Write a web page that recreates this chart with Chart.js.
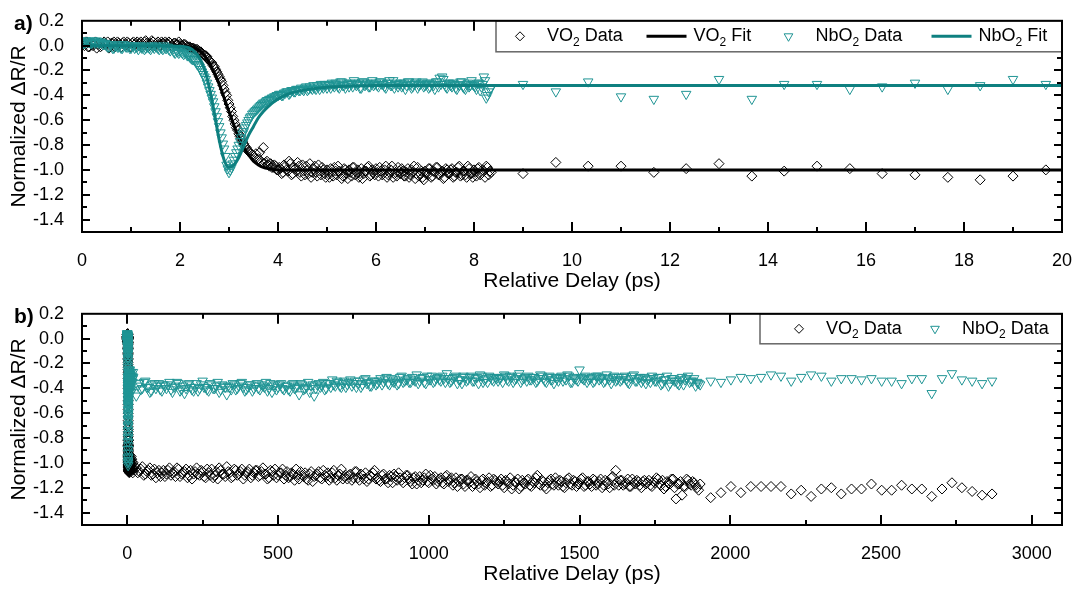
<!DOCTYPE html>
<html>
<head>
<meta charset="utf-8">
<title>Normalized reflectivity transients - VO2 and NbO2</title>
<script src="https://cdn.jsdelivr.net/npm/chart.js@4.4.1/dist/chart.umd.min.js"></script>
<style>
  body { margin: 0; background: #fff; }
  .panel { position: absolute; left: 0; }
  #panelA { top: 0; }
  #panelB { top: 293px; }
</style>
</head>
<body>
<div class="panel" id="panelA"><canvas id="chartA" width="1083" height="296"></canvas></div>
<div class="panel" id="panelB"><canvas id="chartB" width="1083" height="300"></canvas></div>

<script>
// ---- axis ticks ----
const yTicks = [0.2, 0.0, -0.2, -0.4, -0.6, -0.8, -1.0, -1.2, -1.4];
const xTicksA = [0, 2, 4, 6, 8, 10, 12, 14, 16, 18, 20];
const xTicksB = [0, 500, 1000, 1500, 2000, 2500, 3000];

// ---- short delay scans (ps): stage stepped 0.05 ps, second pass offset by half a step ----
const shortStep = 0.05;
const vo2Short = [
  0.02, 0.00, 0.03, -0.01, 0.02, 0.01, -0.02, 0.02, 0.00, 0.03,
  0.01, -0.02, 0.02, 0.03, 0.00, 0.02, -0.01, 0.03, 0.01, 0.02,
  -0.01, 0.03, 0.02, 0.00, 0.03, 0.01, 0.04, -0.01, 0.02, 0.03,
  0.01, 0.03, 0.00, 0.02, 0.03, 0.01, 0.02, -0.01, 0.02, 0.01,
  0.01, 0.00, 0.01, -0.01, -0.01, -0.02, -0.03, -0.03, -0.05, -0.06,
  -0.08, -0.09, -0.12, -0.14, -0.17, -0.21, -0.25, -0.29, -0.35, -0.40,
  -0.47, -0.53, -0.60, -0.66, -0.71, -0.75, -0.79, -0.82, -0.85, -0.87,
  -0.89, -0.87, -0.91, -0.93, -0.82, -0.94, -0.96, -0.95, -0.98, -0.97,
  -1.00, -0.99, -1.02, -0.97, -1.01, -0.95, -1.03, -0.99, -0.94, -1.02,
  -0.96, -1.04, -1.00, -0.95, -1.02, -0.97, -1.05, -1.01, -0.98, -1.03,
  -1.00, -1.06, -1.02, -0.98, -1.04, -1.01, -1.07, -0.99, -1.03, -1.00,
  -1.05, -0.98, -1.02, -1.06, -0.99, -1.03, -1.01, -0.97, -1.04, -1.02,
  -0.99, -1.05, -1.01, -1.03, -0.97, -1.04, -1.00, -1.06, -1.02, -0.98,
  -1.03, -1.01, -1.05, -0.99, -1.04, -1.02, -1.07, -0.98, -1.03, -1.06,
  -1.01, -1.04, -0.99, -1.05, -1.02, -0.98, -1.04, -1.01, -1.06, -1.00,
  -1.03, -0.99, -1.05, -1.02, -0.97, -1.04, -1.01, -1.06, -0.99, -1.03,
  -1.00, -1.05, -0.98, -1.03, -1.01, -0.97, -1.04, -1.02
];
const vo2ShortRepeat = [
  0.01, 0.03, -0.01, 0.02, 0.00, 0.03, 0.01, -0.01, 0.02, 0.01,
  0.03, 0.00, 0.02, -0.01, 0.03, 0.01, 0.02, 0.00, 0.03, -0.01,
  0.02, 0.01, 0.03, 0.02, -0.01, 0.03, 0.02, 0.01, 0.04, 0.00,
  0.02, 0.00, 0.03, 0.01, 0.02, 0.03, 0.00, 0.02, 0.01, 0.03,
  0.00, 0.01, 0.00, -0.01, -0.02, -0.02, -0.03, -0.04, -0.05, -0.07,
  -0.08, -0.11, -0.13, -0.16, -0.19, -0.23, -0.27, -0.32, -0.38, -0.44,
  -0.50, -0.57, -0.63, -0.68, -0.73, -0.77, -0.81, -0.84, -0.86, -0.88,
  -0.90, -0.92, -0.86, -0.94, -0.95, -0.93, -0.97, -0.98, -0.96, -1.00,
  -0.98, -1.03, -0.96, -1.00, -0.93, -1.04, -0.98, -1.01, -0.97, -1.05,
  -1.01, -0.97, -1.03, -1.06, -0.99, -1.02, -0.96, -1.04, -1.00, -1.06,
  -1.03, -0.99, -1.05, -1.01, -0.97, -1.03, -1.05, -1.00, -1.07, -1.02,
  -0.98, -1.04, -1.00, -1.03, -1.07, -1.01, -0.98, -1.05, -1.00, -1.04,
  -1.02, -0.98, -1.04, -1.00, -1.06, -1.02, -0.97, -1.03, -1.05, -1.01,
  -0.99, -1.05, -1.02, -1.06, -1.00, -0.97, -1.03, -1.05, -1.01, -1.08,
  -1.03, -0.99, -1.06, -1.01, -0.98, -1.04, -1.02, -1.07, -0.99, -1.03,
  -1.00, -1.06, -1.02, -0.98, -1.05, -1.01, -1.04, -0.97, -1.03, -1.06,
  -1.02, -0.99, -1.04, -1.00, -1.06, -0.98, -1.01
];
const nbo2Short = [
  0.03, 0.02, 0.04, 0.03, 0.02, 0.03, 0.04, 0.02, 0.03, 0.01,
  0.00, -0.01, 0.01, -0.02, 0.00, -0.01, -0.02, 0.01, -0.01, 0.00,
  -0.02, 0.00, -0.01, -0.03, -0.01, 0.00, -0.02, -0.01, -0.03, -0.01,
  0.00, -0.02, -0.01, -0.03, -0.02, -0.01, -0.04, -0.03, -0.06, -0.05,
  -0.04, -0.06, -0.05, -0.08, -0.09, -0.11, -0.12, -0.15, -0.17, -0.21,
  -0.25, -0.30, -0.36, -0.42, -0.49, -0.57, -0.65, -0.74, -0.83, -0.96,
  -1.02, -0.98, -0.92, -0.86, -0.80, -0.74, -0.69, -0.64, -0.60, -0.57,
  -0.54, -0.52, -0.50, -0.48, -0.46, -0.45, -0.44, -0.43, -0.42, -0.41,
  -0.40, -0.39, -0.40, -0.38, -0.37, -0.38, -0.36, -0.37, -0.35, -0.36,
  -0.35, -0.34, -0.36, -0.33, -0.35, -0.34, -0.32, -0.35, -0.33, -0.31,
  -0.34, -0.32, -0.30, -0.33, -0.31, -0.34, -0.29, -0.32, -0.30, -0.33,
  -0.31, -0.28, -0.32, -0.30, -0.34, -0.29, -0.31, -0.33, -0.30, -0.32,
  -0.30, -0.33, -0.29, -0.31, -0.34, -0.30, -0.32, -0.28, -0.31, -0.33,
  -0.30, -0.32, -0.35, -0.29, -0.31, -0.33, -0.30, -0.34, -0.31, -0.29,
  -0.32, -0.30, -0.33, -0.31, -0.35, -0.29, -0.26, -0.25, -0.31, -0.34,
  -0.30, -0.33, -0.31, -0.35, -0.32, -0.29, -0.34, -0.31, -0.33, -0.28,
  -0.32, -0.35, -0.30, -0.33, -0.25, -0.42, -0.37, -0.34
];
const nbo2ShortRepeat = [
  0.02, 0.04, 0.03, 0.02, 0.04, 0.02, 0.03, 0.03, 0.01, 0.02,
  -0.01, 0.01, -0.02, 0.00, -0.01, 0.01, -0.02, 0.00, -0.01, -0.02,
  0.00, -0.02, -0.01, 0.00, -0.02, -0.03, -0.01, -0.02, 0.00, -0.02,
  -0.01, -0.03, -0.02, 0.00, -0.02, -0.03, -0.02, -0.05, -0.04, -0.06,
  -0.05, -0.07, -0.06, -0.08, -0.10, -0.11, -0.13, -0.16, -0.19, -0.23,
  -0.27, -0.33, -0.39, -0.45, -0.53, -0.61, -0.70, -0.79, -0.89, -0.99,
  -1.00, -0.95, -0.89, -0.83, -0.77, -0.71, -0.66, -0.62, -0.58, -0.55,
  -0.53, -0.51, -0.49, -0.47, -0.46, -0.44, -0.43, -0.42, -0.41, -0.40,
  -0.39, -0.40, -0.38, -0.37, -0.39, -0.36, -0.37, -0.35, -0.36, -0.34,
  -0.36, -0.33, -0.35, -0.34, -0.32, -0.35, -0.33, -0.31, -0.34, -0.32,
  -0.31, -0.34, -0.32, -0.30, -0.33, -0.29, -0.32, -0.34, -0.31, -0.30,
  -0.33, -0.30, -0.31, -0.34, -0.29, -0.32, -0.30, -0.33, -0.28, -0.31,
  -0.32, -0.29, -0.31, -0.33, -0.30, -0.28, -0.32, -0.34, -0.30, -0.31,
  -0.33, -0.30, -0.32, -0.29, -0.34, -0.31, -0.29, -0.32, -0.30, -0.33,
  -0.31, -0.34, -0.30, -0.32, -0.29, -0.33, -0.31, -0.27, -0.33, -0.30,
  -0.32, -0.30, -0.34, -0.31, -0.29, -0.33, -0.35, -0.30, -0.32, -0.31,
  -0.33, -0.30, -0.36, -0.31, -0.28, -0.40, -0.35
];

// coarse points after the fine scan
const midDelay = [9.0, 9.67, 10.33, 11.0, 11.67, 12.33, 13.0, 13.67, 14.33, 15.0, 15.67, 16.33, 17.0, 17.67, 18.33, 19.0, 19.67];
const vo2Mid = [-1.03, -0.94, -0.97, -0.97, -1.02, -0.99, -0.95, -1.05, -1.01, -0.97, -0.99, -1.03, -1.04, -1.06, -1.08, -1.05, -1.00];
const nbo2Mid = [-0.31, -0.37, -0.29, -0.41, -0.43, -0.39, -0.27, -0.43, -0.31, -0.31, -0.35, -0.33, -0.30, -0.35, -0.32, -0.27, -0.31];

// fitted curves
const vo2FitDelay = [0, 1.0, 2.0, 2.2, 2.4, 2.5, 2.6, 2.7, 2.8, 2.9, 3.0, 3.1, 3.2, 3.3, 3.4, 3.5, 3.6, 3.7, 3.8, 4.0, 4.3, 5.0, 20];
const vo2Fit = [0, 0, 0, -0.01, -0.04, -0.08, -0.14, -0.22, -0.31, -0.42, -0.53, -0.64, -0.74, -0.82, -0.88, -0.93, -0.96, -0.98, -0.99, -1.0, -1.0, -1.0, -1.0];
const nbo2FitDelay = [0, 1.0, 2.0, 2.2, 2.3, 2.4, 2.5, 2.6, 2.7, 2.8, 2.9, 3.0, 3.1, 3.2, 3.3, 3.4, 3.5, 3.6, 3.7, 3.8, 4.0, 4.2, 4.5, 5.0, 5.5, 6.0, 20];
const nbo2Fit = [0, 0, -0.005, -0.02, -0.05, -0.1, -0.19, -0.34, -0.54, -0.76, -0.92, -0.98, -0.96, -0.9, -0.81, -0.72, -0.65, -0.58, -0.53, -0.49, -0.43, -0.39, -0.36, -0.335, -0.325, -0.32, -0.32];

// ---- long delay scans (ps): 10 ps steps from 30, second pass offset by 5 ps ----
const longStart = 30, longStep = 10;
const vo2Long = [
  -1.04, -1.07, -1.03, -1.09, -1.06, -1.10, -1.05, -1.08, -1.11, -1.06,
  -1.09, -1.04, -1.08, -1.11, -1.05, -1.09, -1.07, -1.12, -1.06, -1.09,
  -1.04, -1.10, -1.07, -1.12, -1.08, -1.05, -1.10, -1.13, -1.06, -1.09,
  -1.03, -1.08, -1.11, -1.06, -1.09, -1.05, -1.10, -1.07, -1.12, -1.08,
  -1.06, -1.10, -1.04, -1.09, -1.12, -1.07, -1.05, -1.10, -1.08, -1.13,
  -1.07, -1.11, -1.09, -1.05, -1.13, -1.10, -1.08, -1.14, -1.07, -1.11,
  -1.09, -1.12, -1.06, -1.11, -1.14, -1.08, -1.12, -1.10, -1.05, -1.11,
  -1.13, -1.09, -1.12, -1.07, -1.14, -1.10, -1.08, -1.13, -1.11, -1.06,
  -1.12, -1.15, -1.09, -1.13, -1.10, -1.16, -1.11, -1.08, -1.14, -1.12,
  -1.10, -1.15, -1.12, -1.17, -1.11, -1.14, -1.09, -1.16, -1.13, -1.11,
  -1.15, -1.12, -1.17, -1.10, -1.14, -1.18, -1.12, -1.15, -1.13, -1.19,
  -1.14, -1.11, -1.17, -1.15, -1.20, -1.13, -1.16, -1.12, -1.18, -1.14,
  -1.17, -1.13, -1.20, -1.15, -1.12, -1.18, -1.16, -1.21, -1.14, -1.17,
  -1.13, -1.19, -1.16, -1.10, -1.18, -1.15, -1.21, -1.14, -1.17, -1.12,
  -1.18, -1.15, -1.20, -1.13, -1.17, -1.14, -1.19, -1.16, -1.12, -1.18,
  -1.15, -1.19, -1.14, -1.17, -1.13, -1.18, -1.16, -1.20, -1.11, -1.06,
  -1.18, -1.14, -1.17, -1.13, -1.19, -1.16, -1.14, -1.18, -1.15, -1.17,
  -1.14, -1.19, -1.16, -1.13, -1.18, -1.21, -1.15, -1.17, -1.13, -1.29,
  -1.17, -1.26, -1.19, -1.14, -1.18, -1.16, -1.20, -1.17
];
const vo2LongRepeat = [
  -1.08, -1.05, -1.10, -1.07, -1.04, -1.09, -1.12, -1.06, -1.08, -1.11,
  -1.06, -1.10, -1.07, -1.04, -1.11, -1.08, -1.05, -1.10, -1.13, -1.07,
  -1.09, -1.06, -1.11, -1.05, -1.10, -1.12, -1.07, -1.04, -1.09, -1.11,
  -1.07, -1.12, -1.05, -1.10, -1.07, -1.13, -1.08, -1.05, -1.10, -1.06,
  -1.11, -1.07, -1.09, -1.13, -1.06, -1.10, -1.12, -1.08, -1.05, -1.10,
  -1.12, -1.08, -1.14, -1.10, -1.07, -1.11, -1.13, -1.09, -1.15, -1.10,
  -1.07, -1.13, -1.10, -1.08, -1.12, -1.06, -1.14, -1.09, -1.13, -1.10,
  -1.10, -1.14, -1.07, -1.12, -1.09, -1.13, -1.15, -1.10, -1.08, -1.13,
  -1.14, -1.10, -1.13, -1.16, -1.11, -1.09, -1.14, -1.12, -1.16, -1.10,
  -1.13, -1.17, -1.11, -1.14, -1.16, -1.12, -1.15, -1.10, -1.14, -1.17,
  -1.13, -1.16, -1.11, -1.15, -1.12, -1.16, -1.19, -1.13, -1.17, -1.14,
  -1.16, -1.19, -1.13, -1.17, -1.14, -1.18, -1.15, -1.19, -1.13, -1.16,
  -1.15, -1.18, -1.14, -1.17, -1.21, -1.15, -1.13, -1.19, -1.16, -1.14,
  -1.18, -1.15, -1.12, -1.17, -1.14, -1.19, -1.16, -1.13, -1.18, -1.15,
  -1.14, -1.19, -1.16, -1.12, -1.18, -1.15, -1.17, -1.13, -1.19, -1.15,
  -1.17, -1.13, -1.18, -1.15, -1.20, -1.14, -1.17, -1.12, -1.18, -1.15,
  -1.14, -1.18, -1.16, -1.19, -1.13, -1.17, -1.15, -1.20, -1.14, -1.16,
  -1.18, -1.15, -1.12, -1.17, -1.14, -1.19, -1.16, -1.13, -1.20, -1.17,
  -1.15, -1.19, -1.13, -1.17, -1.15, -1.18, -1.22
];
const nbo2Long = [
  -0.46, -0.36, -0.40, -0.34, -0.39, -0.42, -0.36, -0.38, -0.41, -0.37,
  -0.40, -0.35, -0.43, -0.38, -0.36, -0.41, -0.44, -0.37, -0.39, -0.42,
  -0.36, -0.40, -0.34, -0.39, -0.42, -0.37, -0.40, -0.35, -0.41, -0.38,
  -0.45, -0.39, -0.36, -0.41, -0.38, -0.35, -0.42, -0.39, -0.37, -0.40,
  -0.36, -0.41, -0.38, -0.35, -0.40, -0.43, -0.37, -0.39, -0.36, -0.41,
  -0.38, -0.42, -0.36, -0.39, -0.45, -0.37, -0.40, -0.35, -0.38, -0.46,
  -0.37, -0.39, -0.35, -0.40, -0.36, -0.33, -0.38, -0.35, -0.39, -0.34,
  -0.37, -0.33, -0.36, -0.39, -0.34, -0.37, -0.32, -0.35, -0.38, -0.34,
  -0.36, -0.32, -0.35, -0.31, -0.37, -0.34, -0.33, -0.36, -0.30, -0.34,
  -0.32, -0.35, -0.33, -0.29, -0.34, -0.31, -0.36, -0.33, -0.30, -0.34,
  -0.31, -0.34, -0.32, -0.28, -0.35, -0.32, -0.30, -0.33, -0.36, -0.31,
  -0.33, -0.30, -0.34, -0.31, -0.29, -0.35, -0.32, -0.30, -0.33, -0.31,
  -0.34, -0.31, -0.29, -0.33, -0.30, -0.35, -0.32, -0.28, -0.33, -0.31,
  -0.30, -0.33, -0.31, -0.34, -0.29, -0.32, -0.35, -0.30, -0.33, -0.31,
  -0.34, -0.30, -0.32, -0.29, -0.35, -0.31, -0.33, -0.25, -0.32, -0.30,
  -0.33, -0.31, -0.34, -0.30, -0.32, -0.35, -0.29, -0.33, -0.31, -0.34,
  -0.31, -0.33, -0.30, -0.35, -0.32, -0.29, -0.34, -0.31, -0.33, -0.36,
  -0.32, -0.30, -0.34, -0.31, -0.37, -0.33, -0.30, -0.36, -0.32, -0.34,
  -0.37, -0.31, -0.33, -0.30, -0.34, -0.32, -0.35, -0.37
];
const nbo2LongRepeat = [
  -0.38, -0.41, -0.35, -0.39, -0.43, -0.37, -0.40, -0.36, -0.42, -0.38,
  -0.37, -0.41, -0.39, -0.35, -0.42, -0.38, -0.40, -0.36, -0.41, -0.39,
  -0.42, -0.37, -0.39, -0.41, -0.36, -0.40, -0.38, -0.43, -0.37, -0.39,
  -0.38, -0.41, -0.37, -0.40, -0.36, -0.39, -0.41, -0.37, -0.42, -0.38,
  -0.40, -0.37, -0.39, -0.42, -0.36, -0.38, -0.41, -0.37, -0.40, -0.38,
  -0.41, -0.37, -0.40, -0.38, -0.36, -0.41, -0.39, -0.43, -0.37, -0.40,
  -0.36, -0.38, -0.41, -0.36, -0.39, -0.37, -0.34, -0.38, -0.36, -0.39,
  -0.35, -0.38, -0.34, -0.36, -0.39, -0.33, -0.36, -0.38, -0.34, -0.37,
  -0.34, -0.37, -0.33, -0.36, -0.32, -0.35, -0.37, -0.31, -0.35, -0.33,
  -0.35, -0.31, -0.34, -0.36, -0.32, -0.35, -0.30, -0.33, -0.35, -0.32,
  -0.33, -0.30, -0.35, -0.32, -0.34, -0.31, -0.36, -0.33, -0.30, -0.34,
  -0.31, -0.34, -0.32, -0.36, -0.30, -0.33, -0.35, -0.31, -0.34, -0.32,
  -0.32, -0.35, -0.30, -0.34, -0.31, -0.33, -0.30, -0.35, -0.32, -0.34,
  -0.33, -0.31, -0.35, -0.32, -0.30, -0.34, -0.31, -0.33, -0.36, -0.32,
  -0.31, -0.34, -0.33, -0.30, -0.35, -0.32, -0.34, -0.31, -0.33, -0.35,
  -0.32, -0.35, -0.30, -0.33, -0.31, -0.34, -0.32, -0.36, -0.30, -0.33,
  -0.34, -0.31, -0.33, -0.36, -0.30, -0.34, -0.32, -0.35, -0.31, -0.33,
  -0.35, -0.32, -0.34, -0.31, -0.36, -0.33, -0.38, -0.32, -0.34, -0.36,
  -0.33, -0.37, -0.32, -0.35, -0.34, -0.38, -0.36
];

// coarse tail of the long scan
const tailDelay = [1935, 1969, 2002, 2035, 2068, 2102, 2135, 2168, 2202, 2235, 2268, 2302, 2335, 2368, 2402,
                   2435, 2468, 2502, 2535, 2568, 2602, 2635, 2668, 2702, 2735, 2768, 2802, 2835, 2868];
const vo2Tail = [-1.28, -1.24, -1.19, -1.24, -1.19, -1.19, -1.19, -1.19, -1.25, -1.22, -1.27, -1.21, -1.20, -1.25, -1.21,
                 -1.21, -1.17, -1.22, -1.22, -1.18, -1.21, -1.21, -1.27, -1.21, -1.16, -1.20, -1.23, -1.26, -1.25];
const nbo2Tail = [-0.34, -0.35, -0.33, -0.31, -0.32, -0.31, -0.29, -0.30, -0.34, -0.31, -0.29, -0.30, -0.34, -0.32, -0.32,
                  -0.33, -0.32, -0.34, -0.34, -0.36, -0.32, -0.32, -0.44, -0.32, -0.28, -0.33, -0.34, -0.36, -0.34];

// ---- styling ----
const FONT = '"Liberation Sans", Arial, sans-serif';
const TEAL = '#1f9494';
const TEAL_LINE = '#0e8080';

const shortDelay = vo2Short.map((_, i) => +(i * shortStep).toFixed(3));
const shortDelayRepeat = vo2ShortRepeat.map((_, i) => +(shortStep / 2 + i * shortStep).toFixed(3));
const longDelay = vo2Long.map((_, i) => longStart + i * longStep);
const longDelayRepeat = vo2LongRepeat.map((_, i) => longStart + longStep / 2 + i * longStep);

function pair(xs, ys) {
  return xs.map((x, i) => ({ x: x, y: ys[i] }));
}

function vo2Points(xs, ys) {
  return { label: 'VO₂ Data', data: pair(xs, ys), showLine: false, order: 3,
           pointStyle: 'rectRot', pointRadius: 5, pointBorderWidth: 1,
           borderColor: '#000', backgroundColor: 'rgba(0,0,0,0)' };
}
function nbo2Points(xs, ys) {
  return { label: 'NbO₂ Data', data: pair(xs, ys), showLine: false, order: 1,
           pointStyle: 'triangle', pointRotation: 180, pointRadius: 5.5, pointBorderWidth: 1,
           borderColor: TEAL, backgroundColor: 'rgba(0,0,0,0)' };
}
function fitLine(label, xs, ys, color, order) {
  return { label: label, data: pair(xs, ys), showLine: true, order: order,
           borderColor: color, borderWidth: 3, pointRadius: 0,
           cubicInterpolationMode: 'monotone', backgroundColor: color };
}

// label with the "2" of the formula set as a subscript
function drawSubLabel(ctx, text, x, y) {
  const parts = text.split('₂');
  ctx.fillStyle = '#000';
  ctx.textAlign = 'left';
  ctx.textBaseline = 'middle';
  let cx = x;
  parts.forEach((p, i) => {
    if (i > 0) {
      ctx.font = '12px ' + FONT;
      ctx.fillText('2', cx, y + 6);
      cx += ctx.measureText('2').width;
    }
    ctx.font = '18px ' + FONT;
    ctx.fillText(p, cx, y);
    cx += ctx.measureText(p).width;
  });
}

// inward ticks on all four sides, boxed legend, frame and panel tag
const framePlugin = {
  id: 'frame',
  afterDraw(chart, args, o) {
    const { ctx, chartArea: a } = chart;
    const xs = chart.scales.x, ys = chart.scales.y;
    ctx.save();
    ctx.strokeStyle = '#000';
    ctx.lineWidth = 2;
    ctx.beginPath();
    for (let k = Math.ceil(xs.min / o.xMinor - 1e-9); k * o.xMinor <= xs.max + 1e-9; k++) {
      const v = k * o.xMinor;
      if (v <= xs.min + 1e-9 || v >= xs.max - 1e-9) continue;
      const len = o.xMajor.some(m => Math.abs(m - v) < 1e-6) ? 10 : 5;
      const px = Math.round(xs.getPixelForValue(v));
      ctx.moveTo(px, a.bottom); ctx.lineTo(px, a.bottom - len);
      ctx.moveTo(px, a.top); ctx.lineTo(px, a.top + len);
    }
    for (let k = Math.ceil(ys.min / o.yMinor - 1e-9); k * o.yMinor <= ys.max + 1e-9; k++) {
      const v = k * o.yMinor;
      if (v <= ys.min + 1e-9 || v >= ys.max - 1e-9) continue;
      const len = o.yMajor.some(m => Math.abs(m - v) < 1e-6) ? 8 : 5;
      const py = Math.round(ys.getPixelForValue(v));
      ctx.moveTo(a.left, py); ctx.lineTo(a.left + len, py);
      ctx.moveTo(a.right, py); ctx.lineTo(a.right - len, py);
    }
    ctx.stroke();

    // legend box in the upper right corner
    const lg = o.legend;
    const top = a.top, bottom = a.top + lg.height;
    ctx.fillStyle = '#fff';
    ctx.fillRect(lg.left, top, a.right - lg.left, bottom - top);
    ctx.strokeStyle = '#666';
    ctx.lineWidth = 1.5;
    ctx.strokeRect(lg.left, top, a.right - lg.left, bottom - top);
    const cy = (top + bottom) / 2;
    lg.items.forEach(it => {
      const ds = chart.data.datasets[it.dataset];
      const cx = lg.left + it.x;
      if (ds.showLine) {
        ctx.strokeStyle = ds.borderColor;
        ctx.lineWidth = ds.borderWidth;
        ctx.beginPath();
        ctx.moveTo(cx - 20, cy); ctx.lineTo(cx + 20, cy);
        ctx.stroke();
      } else {
        ctx.strokeStyle = ds.borderColor;
        ctx.fillStyle = 'rgba(0,0,0,0)';
        ctx.lineWidth = ds.pointBorderWidth;
        Chart.helpers.drawPoint(ctx, {
          pointStyle: ds.pointStyle, radius: ds.pointRadius - 0.5,
          rotation: ds.pointRotation || 0, borderWidth: ds.pointBorderWidth
        }, cx, cy);
      }
      drawSubLabel(ctx, ds.label, cx + 27, cy);
    });

    // plot frame
    ctx.strokeStyle = '#000';
    ctx.lineWidth = 2;
    ctx.strokeRect(a.left, a.top, a.right - a.left, a.bottom - a.top);

    // panel tag
    ctx.fillStyle = '#000';
    ctx.font = 'bold 21px ' + FONT;
    ctx.textAlign = 'left';
    ctx.textBaseline = 'middle';
    ctx.fillText(o.tag, 14, a.top + 3);
    ctx.restore();
  }
};

function makeOptions(c) {
  return {
    responsive: false,
    animation: false,
    devicePixelRatio: 1,
    events: [],
    layout: { padding: { top: 12, right: 21, left: 0, bottom: c.padBottom } },
    plugins: {
      legend: { display: false },
      tooltip: { enabled: false },
      frame: c.frame
    },
    scales: {
      x: {
        type: 'linear', min: c.xMin, max: c.xMax,
        grid: { display: false }, border: { display: false },
        afterBuildTicks: s => { s.ticks = c.xTicks.map(v => ({ value: v })); },
        afterFit: s => { s.height = c.xHeight; },
        ticks: { color: '#000', font: { family: FONT, size: 18 }, padding: 10,
                 maxRotation: 0, autoSkip: false, callback: v => String(v) },
        title: { display: true, text: 'Relative Delay (ps)', color: '#000',
                 font: { family: FONT, size: 21 }, padding: 0 }
      },
      y: {
        type: 'linear', min: -1.5, max: 0.2,
        grid: { display: false }, border: { display: false },
        afterBuildTicks: s => { s.ticks = yTicks.map(v => ({ value: v })); },
        afterFit: s => { s.width = 82; },
        ticks: { color: '#000', font: { family: FONT, size: 18 }, padding: 10,
                 autoSkip: false, callback: v => v.toFixed(1) },
        title: { display: true, text: 'Normalized ΔR/R', color: '#000',
                 font: { family: FONT, size: 21 }, padding: { top: 7, bottom: 0 } }
      }
    }
  };
}

const vo2ShortAll = { x: shortDelay.concat(shortDelayRepeat, midDelay), y: vo2Short.concat(vo2ShortRepeat, vo2Mid) };
const nbo2ShortAll = { x: shortDelay.concat(shortDelayRepeat, midDelay), y: nbo2Short.concat(nbo2ShortRepeat, nbo2Mid) };

// a) first 20 ps with fits
new Chart(document.getElementById('chartA'), {
  type: 'scatter',
  data: {
    datasets: [
      vo2Points(vo2ShortAll.x, vo2ShortAll.y),
      fitLine('VO₂ Fit', vo2FitDelay, vo2Fit, '#000', 2),
      nbo2Points(nbo2ShortAll.x, nbo2ShortAll.y),
      fitLine('NbO₂ Fit', nbo2FitDelay, nbo2Fit, TEAL_LINE, 0)
    ]
  },
  options: makeOptions({
    xMin: 0, xMax: 20, xTicks: xTicksA, xHeight: 62.3, padBottom: 1.7,
    frame: {
      tag: 'a)', xMinor: 1, xMajor: xTicksA, yMinor: 0.1, yMajor: yTicks,
      legend: { left: 496, height: 31,
                items: [{ dataset: 0, x: 24 }, { dataset: 1, x: 170.5 },
                        { dataset: 2, x: 292.5 }, { dataset: 3, x: 455.5 }] }
    }
  }),
  plugins: [framePlugin]
});

// b) full delay range, same short scans plus the long scans
new Chart(document.getElementById('chartB'), {
  type: 'scatter',
  data: {
    datasets: [
      vo2Points(vo2ShortAll.x.concat(longDelay, longDelayRepeat, tailDelay),
                vo2ShortAll.y.concat(vo2Long, vo2LongRepeat, vo2Tail)),
      nbo2Points(nbo2ShortAll.x.concat(longDelay, longDelayRepeat, tailDelay),
                 nbo2ShortAll.y.concat(nbo2Long, nbo2LongRepeat, nbo2Tail))
    ]
  },
  options: makeOptions({
    xMin: -150, xMax: 3100, xTicks: xTicksB, xHeight: 61.6, padBottom: 6.4,
    frame: {
      tag: 'b)', xMinor: 250, xMajor: xTicksB, yMinor: 0.1, yMajor: yTicks,
      legend: { left: 760, height: 30,
                items: [{ dataset: 0, x: 39 }, { dataset: 1, x: 175 }] }
    }
  }),
  plugins: [framePlugin]
});
</script>
</body>
</html>
